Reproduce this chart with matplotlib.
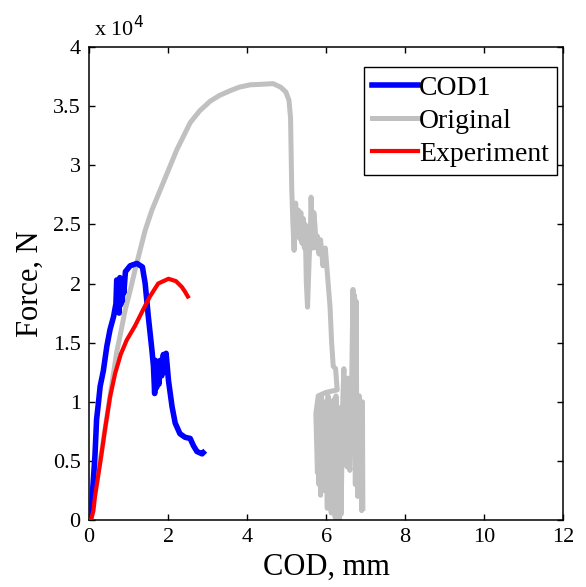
import matplotlib
matplotlib.use('Agg')
import matplotlib.pyplot as plt
from matplotlib.ticker import FormatStrFormatter

# COD in mm, force in units of 1e4 N
cod1_x = [0.0, 0.05, 0.08, 0.10, 0.13, 0.15, 0.19, 0.24, 0.28, 0.36, 0.45, 0.53, 0.62, 0.68, 0.70,
          0.72, 0.74, 0.76, 0.78, 0.80, 0.82, 0.84, 0.86, 0.88, 0.92, 1.04, 1.21, 1.35, 1.42, 1.50,
          1.59, 1.63, 1.66, 1.68, 1.71, 1.74, 1.77, 1.80, 1.84, 1.88, 1.92, 1.95, 2.01, 2.10, 2.18,
          2.30, 2.43, 2.56, 2.64, 2.73, 2.86, 2.89]
cod1_y = [0.0, 0.04, 0.20, 0.30, 0.45, 0.55, 0.85, 1.00, 1.13, 1.26, 1.47, 1.61, 1.72, 1.83, 2.03,
          1.80, 2.02, 1.75, 2.05, 1.82, 2.00, 1.85, 2.02, 1.92, 2.10, 2.15, 2.17, 2.14, 2.00, 1.72,
          1.44, 1.30, 1.07, 1.35, 1.12, 1.32, 1.15, 1.35, 1.22, 1.40, 1.25, 1.41, 1.18, 0.96, 0.82,
          0.73, 0.70, 0.69, 0.63, 0.58, 0.56, 0.57]

orig_x = [0.0, 0.10, 0.23, 0.32, 0.40, 0.50, 0.60, 0.70, 0.78, 0.91, 1.04, 1.16, 1.29, 1.42, 1.59,
          1.80, 2.01, 2.22, 2.56, 2.80, 3.06, 3.30, 3.57, 3.80, 4.08, 4.40, 4.66, 4.85, 4.98, 5.06,
          5.10, 5.13, 5.16, 5.19, 5.21, 5.23, 5.27, 5.30, 5.33, 5.36, 5.39, 5.42, 5.45, 5.47, 5.50,
          5.53, 5.57, 5.60, 5.62, 5.66, 5.69, 5.72, 5.75, 5.78, 5.82, 5.86, 5.92, 5.98, 6.04, 6.10,
          6.14, 6.18, 6.24, 6.28, 6.00, 5.80, 5.74, 5.78, 5.80, 5.82, 5.84, 5.86, 5.88, 5.90, 5.92,
          5.94, 5.96, 5.98, 6.00, 6.03, 6.05, 6.08, 6.10, 6.13, 6.15, 6.18, 6.20, 6.23, 6.25, 6.28,
          6.30, 6.33, 6.35, 6.38, 6.42, 6.45, 6.48, 6.50, 6.53, 6.55, 6.58, 6.60, 6.64, 6.68, 6.70,
          6.72, 6.74, 6.76, 6.78, 6.80, 6.84, 6.86, 6.88, 6.90, 6.92, 6.93]
orig_y = [0.0, 0.20, 0.42, 0.58, 0.76, 0.98, 1.20, 1.42, 1.55, 1.77, 1.94, 2.11, 2.28, 2.45, 2.62,
          2.79, 2.96, 3.13, 3.36, 3.46, 3.54, 3.59, 3.63, 3.66, 3.68, 3.685, 3.69, 3.66, 3.62, 3.55,
          3.40, 2.80, 2.50, 2.28, 2.60, 2.68, 2.40, 2.62, 2.38, 2.60, 2.34, 2.55, 2.30, 2.50, 2.00,
          1.80, 2.20, 2.40, 2.73, 2.30, 2.60, 2.48, 2.30, 2.40, 2.25, 2.37, 2.15, 2.30, 2.05, 1.80,
          1.50, 1.30, 1.28, 1.10, 1.08, 1.05, 0.90, 0.40, 1.00, 0.30, 0.95, 0.21, 1.05, 0.35, 0.95,
          0.25, 1.00, 0.30, 0.90, 0.10, 1.05, 0.20, 0.95, 0.06, 1.00, 0.15, 1.02, 0.02, 1.05, 0.10,
          0.90, 0.00, 0.95, 0.05, 1.00, 1.28, 0.60, 1.10, 0.45, 1.20, 0.50, 0.42, 1.00, 1.95, 0.60,
          1.90, 0.30, 1.85, 0.50, 0.20, 1.05, 0.30, 0.95, 0.08, 1.00, 0.10]

exp_x = [0.05, 0.11, 0.15, 0.28, 0.40, 0.53, 0.66, 0.80, 0.95, 1.16, 1.37, 1.54, 1.75, 2.01, 2.20,
         2.35, 2.43, 2.50]
exp_y = [0.0, 0.08, 0.20, 0.48, 0.76, 1.04, 1.24, 1.40, 1.52, 1.64, 1.78, 1.89, 2.00, 2.04, 2.02,
         1.97, 1.93, 1.89]

x_ticks = [0, 2, 4, 6, 8, 10, 12]
y_ticks = [0, 0.5, 1, 1.5, 2, 2.5, 3, 3.5, 4]

plt.rcParams['font.family'] = ['Liberation Serif', 'DejaVu Serif']

fig = plt.figure(figsize=(5.86, 5.87), dpi=100)
ax = fig.add_axes([0.152, 0.114, 0.809, 0.806])

ax.plot(cod1_x, cod1_y, color='#0000ff', lw=4.0, label='COD1', zorder=3)
ax.plot(orig_x, orig_y, color='#c0c0c0', lw=3.6, label='Original', zorder=2)
ax.plot(exp_x, exp_y, color='#ff0000', lw=3.0, label='Experiment', zorder=4)

ax.set_xlim(0, 12)
ax.set_ylim(0, 4)
ax.set_xticks(x_ticks)
ax.set_yticks(y_ticks)
ax.yaxis.set_major_formatter(FormatStrFormatter('%g'))
ax.tick_params(direction='in', top=True, right=True, length=4, width=1, labelsize=16, pad=6)
for s in ax.spines.values():
    s.set_linewidth(1.1)

ax.set_xlabel('COD, mm', fontsize=22, labelpad=4)
ax.set_ylabel('Force, N', fontsize=22, labelpad=6)
ax.text(0.01, 1.012, r'x 10$^4$', transform=ax.transAxes, fontsize=16, ha='left', va='bottom')

leg = ax.legend(loc='upper right', bbox_to_anchor=(0.988, 0.958), borderaxespad=0,
                fontsize=20, fancybox=False, framealpha=1, edgecolor='black',
                handlelength=1.65, handletextpad=0.05, labelspacing=0.28, borderpad=0.3)
leg.get_frame().set_linewidth(1.0)

fig.savefig('out.png', dpi=100)
